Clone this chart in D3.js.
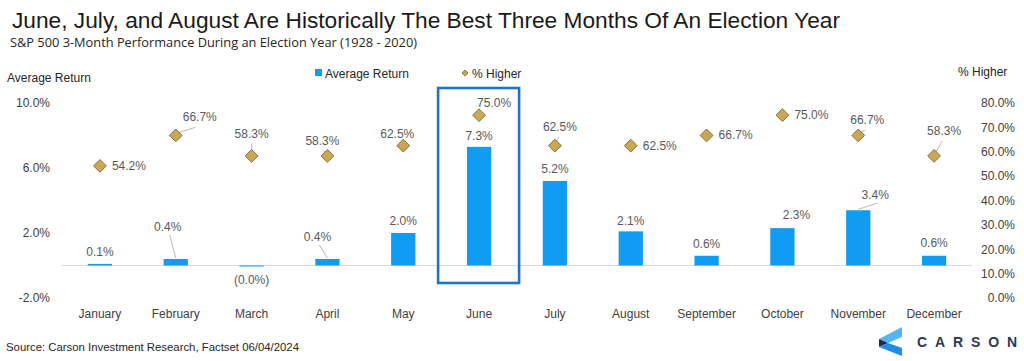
<!DOCTYPE html>
<html>
<head>
<meta charset="utf-8">
<script src="https://cdn.jsdelivr.net/npm/d3@7"></script>
<style>
  html, body { margin: 0; padding: 0; background: #fff; }
  svg { display: block; font-family: "Liberation Sans", Arial, sans-serif; }
</style>
</head>
<body>
<svg id="chart" width="1024" height="361"></svg>
<script>
// ---- data ----
const months = ["January", "February", "March", "April", "May", "June",
    "July", "August", "September", "October", "November", "December"];
const avgReturn = [0.1, 0.4, -0.03, 0.4, 2.0, 7.3, 5.2, 2.1, 0.6, 2.3, 3.4, 0.6];
const pctHigher = [54.2, 66.7, 58.3, 58.3, 62.5, 75.0, 62.5, 62.5, 66.7, 75.0, 66.7, 58.3];
const leftTicks = [-2, 2, 6, 10];
const rightTicks = [0, 10, 20, 30, 40, 50, 60, 70, 80];

// ---- label placement (pixel nudges from each mark) ----
// [dx, dy, anchor, leader?]
const pctLabelPos = [
    [12, 4, "start", false], [24, -14, "middle", true], [0, -18, "middle", true], [-5, -11, "middle", true],
    [-6, -8, "middle", false], [15, -8, "middle", false], [5, -15, "middle", true], [12, 4, "start", false],
    [12, 4, "start", false], [12, 4, "start", false], [9, -11, "middle", true], [10, -21, "middle", true]
];
const retLabelPos = [
    [0, -8, false], [-8, -28, true], [0, 18, false], [-10, -18, true],
    [0, -8, false], [0, -7, false], [0, -8, false], [0, -6, false],
    [0, -8, false], [14, -9, false], [17, -11, true], [0, -9, false]
];

const svg = d3.select("#chart");

const x = d3.scaleBand().domain(months).range([62, 972]).paddingInner(0.68).paddingOuter(0.34);
const yL = d3.scaleLinear().domain([-2, 10]).range([298, 103]);
const yR = d3.scaleLinear().domain([0, 80]).range([298, 103]);

const fmtRet = v => v < 0 ? `(${Math.abs(v).toFixed(1)}%)` : `${v.toFixed(1)}%`;

// titles
svg.append("text")
    .attr("x", 12).attr("y", 28)
    .attr("font-size", 22).attr("fill", "#1a1a1a")
    .attr("textLength", 828).attr("lengthAdjust", "spacingAndGlyphs")
    .text("June, July, and August Are Historically The Best Three Months Of An Election Year");

svg.append("text")
    .attr("x", 10).attr("y", 47)
    .attr("font-family", "'Open Sans', 'Noto Sans', sans-serif")
    .attr("font-size", 12.5).attr("fill", "#262626")
    .attr("textLength", 407).attr("lengthAdjust", "spacingAndGlyphs")
    .text("S&P 500 3-Month Performance During an Election Year (1928 - 2020)");

svg.append("text")
    .attr("x", 7).attr("y", 82)
    .attr("font-size", 12).attr("fill", "#262626")
    .text("Average Return");

svg.append("text")
    .attr("x", 958).attr("y", 76)
    .attr("font-size", 12).attr("fill", "#262626")
    .text("% Higher");

// legend
const legend = svg.append("g");
legend.append("rect")
    .attr("x", 315).attr("y", 69).attr("width", 7).attr("height", 7)
    .attr("fill", "#0f9cf2");
legend.append("text")
    .attr("x", 325).attr("y", 78)
    .attr("font-size", 12).attr("fill", "#262626")
    .text("Average Return");
legend.append("path")
    .attr("d", d3.symbol(d3.symbolSquare, 18)())
    .attr("transform", "translate(465,73) rotate(45)")
    .attr("fill", "#c8a852").attr("stroke", "#7d6c3b").attr("stroke-width", 0.8);
legend.append("text")
    .attr("x", 472).attr("y", 78)
    .attr("font-size", 12).attr("fill", "#262626")
    .text("% Higher");

// axes
const leftAxis = svg.append("g")
    .attr("transform", "translate(52,0)")
    .call(d3.axisLeft(yL).tickValues(leftTicks).tickFormat(d => d.toFixed(1) + "%").tickSize(0).tickPadding(2));
leftAxis.select(".domain").remove();

const rightAxis = svg.append("g")
    .attr("transform", "translate(1015,0)")
    .call(d3.axisRight(yR).tickValues(rightTicks).tickFormat(d => d.toFixed(1) + "%").tickSize(0));
rightAxis.select(".domain").remove();
rightAxis.selectAll("text").attr("x", 0).attr("text-anchor", "end");

const bottomAxis = svg.append("g")
    .attr("transform", "translate(0,306)")
    .call(d3.axisBottom(x).tickSize(0).tickPadding(3));
bottomAxis.select(".domain").remove();

svg.selectAll(".tick text")
    .attr("font-family", "'Liberation Sans', Arial, sans-serif")
    .attr("font-size", 12).attr("fill", "#404040");

// zero line
svg.append("line")
    .attr("x1", 62).attr("x2", 972)
    .attr("y1", yL(0)).attr("y2", yL(0))
    .attr("stroke", "#d9d9d9").attr("stroke-width", 1);

// bars
const rows = months.map((m, i) => ({ month: m, ret: avgReturn[i], pct: pctHigher[i], i }));

svg.append("g").selectAll("rect")
    .data(rows)
    .join("rect")
    .attr("x", d => x(d.month))
    .attr("width", x.bandwidth())
    .attr("y", d => Math.min(yL(d.ret), yL(0)))
    .attr("height", d => Math.max(Math.abs(yL(d.ret) - yL(0)), 1))
    .attr("fill", "#0f9cf2");

// bar labels
const retLabels = svg.append("g");
rows.forEach(d => {
    const cx = x(d.month) + x.bandwidth() / 2;
    const top = yL(Math.max(d.ret, 0));
    const [dx, dy, leader] = retLabelPos[d.i];
    if (leader) {
        retLabels.append("line")
            .attr("x1", cx + dx + 2).attr("y1", top + dy + 4)
            .attr("x2", cx).attr("y2", top - 1)
            .attr("stroke", "#a6a6a6").attr("stroke-width", 0.8);
    }
    retLabels.append("text")
        .attr("x", cx + dx).attr("y", top + dy)
        .attr("text-anchor", "middle")
        .attr("font-size", 12).attr("fill", "#595959")
        .text(fmtRet(d.ret));
});

// diamonds
const pctLabels = svg.append("g");
rows.forEach(d => {
    const cx = x(d.month) + x.bandwidth() / 2;
    const cy = yR(d.pct);
    const [dx, dy, anchor, leader] = pctLabelPos[d.i];
    if (leader) {
        pctLabels.append("line")
            .attr("x1", cx + dx * 0.8).attr("y1", cy + dy + 6)
            .attr("x2", cx + dx * 0.15).attr("y2", cy - 3)
            .attr("stroke", "#a6a6a6").attr("stroke-width", 0.8);
    }
    pctLabels.append("text")
        .attr("x", cx + dx).attr("y", cy + dy)
        .attr("text-anchor", anchor)
        .attr("font-size", 12).attr("fill", "#595959")
        .text(d.pct.toFixed(1) + "%");
});

svg.append("g").selectAll("path")
    .data(rows)
    .join("path")
    .attr("d", d3.symbol(d3.symbolSquare, 82)())
    .attr("transform", d => `translate(${x(d.month) + x.bandwidth() / 2},${yR(d.pct)}) rotate(45)`)
    .attr("fill", "#c8a852")
    .attr("stroke", "#7d6c3b")
    .attr("stroke-width", 0.9);

// highlight box round June
const jx = x("June") + x.bandwidth() / 2;
svg.append("rect")
    .attr("x", jx - 41).attr("y", 88)
    .attr("width", 81).attr("height", 195)
    .attr("fill", "none")
    .attr("stroke", "#1b74c6")
    .attr("stroke-width", 2.6);

// source
svg.append("text")
    .attr("x", 6).attr("y", 351)
    .attr("font-size", 11.5).attr("fill", "#262626")
    .attr("textLength", 293).attr("lengthAdjust", "spacingAndGlyphs")
    .text("Source: Carson Investment  Research, Factset 06/04/2024");

// logo
const logo = svg.append("g").attr("transform", "translate(879,327)");
logo.append("path").attr("d", "M23,0 L23,10 L9,16 L0,12 Z").attr("fill", "#55b6f5");
logo.append("path").attr("d", "M0,12 L9,16 L0,20 Z").attr("fill", "#1c2b4a");
logo.append("path").attr("d", "M0,20 L9,16 L23,21 L23,29 Z").attr("fill", "#1f8de6");
svg.append("text")
    .attr("x", 917).attr("y", 347)
    .attr("font-size", 14).attr("font-weight", "bold")
    .attr("fill", "#2a3957")
    .attr("textLength", 100).attr("lengthAdjust", "spacing")
    .text("CARSON");
</script>
</body>
</html>
